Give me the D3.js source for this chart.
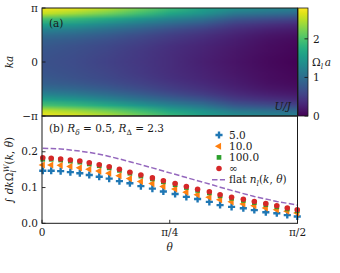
<!DOCTYPE html>
<html>
<head>
<meta charset="utf-8">
<script src="https://cdn.jsdelivr.net/npm/d3@7"></script>
<style>
  body { margin: 0; background: #fff; }
  svg { display: block; }
</style>
</head>
<body>
<svg id="chart" width="340" height="273"></svg>
<script>
// ---- panel (a): heat map, columns go left -> right, rows are |ka|/pi = 0 .. 1
const kAbs = [0, 0.1, 0.2, 0.3, 0.4, 0.5, 0.6, 0.7, 0.8, 0.9, 1.0];
const heatCols = [
  [0.71, 0.72, 0.74, 0.78, 0.85, 1.00, 1.25, 1.60, 2.00, 2.55, 2.75],
  [0.64, 0.65, 0.67, 0.71, 0.78, 0.92, 1.15, 1.48, 1.88, 2.40, 2.70],
  [0.55, 0.56, 0.58, 0.62, 0.68, 0.80, 1.00, 1.30, 1.70, 2.20, 2.50],
  [0.45, 0.46, 0.48, 0.51, 0.56, 0.66, 0.84, 1.10, 1.48, 1.95, 2.20],
  [0.35, 0.36, 0.37, 0.39, 0.44, 0.52, 0.66, 0.90, 1.25, 1.65, 1.90],
  [0.25, 0.26, 0.27, 0.29, 0.33, 0.40, 0.52, 0.74, 1.07, 1.42, 1.60],
  [0.15, 0.16, 0.17, 0.19, 0.22, 0.27, 0.36, 0.50, 0.76, 1.12, 1.40],
  [0.07, 0.08, 0.09, 0.10, 0.13, 0.17, 0.26, 0.40, 0.66, 1.02, 1.30],
  [0.02, 0.03, 0.04, 0.05, 0.07, 0.11, 0.19, 0.32, 0.58, 0.95, 1.25]
];
const colorMax = 2.8;
const colorTicks = [0, 1, 2];
const kTicks = [-1, 0, 1];
const kTickLabels = ['\u2212\u03c0', '0', '\u03c0'];

// ---- panel (b): theta in units of pi/2
const thetaFrac = [0.003, 0.036, 0.073, 0.111, 0.148, 0.185, 0.224, 0.263, 0.303, 0.344,
  0.387, 0.432, 0.475, 0.521, 0.565, 0.609, 0.655, 0.697, 0.742, 0.788,
  0.831, 0.876, 0.919, 0.960, 0.999];
const u5 = [0.147, 0.147, 0.146, 0.143, 0.140, 0.135, 0.130, 0.125, 0.118, 0.112,
  0.104, 0.097, 0.089, 0.082, 0.074, 0.068, 0.060, 0.051, 0.046, 0.042,
  0.037, 0.031, 0.028, 0.023, 0.019];
const u10 = [0.163, 0.163, 0.162, 0.159, 0.155, 0.151, 0.146, 0.140, 0.133, 0.125,
  0.117, 0.111, 0.103, 0.096, 0.087, 0.080, 0.073, 0.066, 0.060, 0.054,
  0.049, 0.043, 0.038, 0.034, 0.029];
const u100 = [0.179, 0.179, 0.177, 0.174, 0.171, 0.166, 0.161, 0.155, 0.148, 0.140,
  0.132, 0.124, 0.116, 0.108, 0.100, 0.092, 0.085, 0.077, 0.070, 0.064,
  0.058, 0.052, 0.046, 0.040, 0.035];
const uInf = [0.183, 0.182, 0.180, 0.177, 0.174, 0.169, 0.164, 0.158, 0.151, 0.143,
  0.135, 0.127, 0.119, 0.111, 0.103, 0.095, 0.088, 0.080, 0.073, 0.067,
  0.061, 0.055, 0.049, 0.043, 0.038];
const flatN = [0.210, 0.209, 0.208, 0.205, 0.202, 0.198, 0.193, 0.187, 0.180, 0.172,
  0.164, 0.155, 0.146, 0.137, 0.128, 0.119, 0.110, 0.101, 0.092, 0.083,
  0.075, 0.068, 0.061, 0.056, 0.051];
const seriesNames = ['5.0', '10.0', '100.0', '\u221e'];
const thetaTicks = [0, 0.5, 1];
const thetaTickLabels = ['0', '\u03c0/4', '\u03c0/2'];
const yTicksB = [0, 0.1, 0.2];

const svg = d3.select('#chart');
const ink = '#1a1a1a';
const fs = 10.5;
const serif = 'DejaVu Serif';

const left = 42, right = 297.5;
const aTop = 8, mid = 116, bBottom = 223.3;

// ---------------- panel (a)
const xA = d3.scaleLinear().domain([0, heatCols.length - 1]).range([left, right]);
const yA = d3.scaleLinear().domain([-1, 1]).range([mid, aTop]);
const cNorm = d3.scaleLinear().domain([0, colorMax]).range([0, 1]).clamp(true);
const color = v => d3.interpolateViridis(cNorm(v));

// rows from k = +pi (top) to k = -pi (bottom), mirrored from |k|
const nRows = kAbs.length * 2 - 1;
const rowIdx = d3.range(nRows).map(j => Math.abs(kAbs.length - 1 - j));
const cvs = document.createElement('canvas');
cvs.width = heatCols.length;
cvs.height = nRows;
const ctx = cvs.getContext('2d');
heatCols.forEach((col, i) => {
  rowIdx.forEach((r, j) => {
    ctx.fillStyle = color(col[r]);
    ctx.fillRect(i, j, 1, 1);
  });
});

const cellW = xA(1) - xA(0);
const cellH = yA(0) - yA(0.1);
svg.append('clipPath').attr('id', 'clipA')
  .append('rect').attr('x', left).attr('y', aTop)
  .attr('width', right - left).attr('height', mid - aTop);

svg.append('image')
  .attr('clip-path', 'url(#clipA)')
  .attr('href', cvs.toDataURL())
  .attr('x', left - cellW / 2).attr('y', aTop - cellH / 2)
  .attr('width', right - left + cellW).attr('height', mid - aTop + cellH)
  .attr('preserveAspectRatio', 'none');

// y axis of (a)
const gA = svg.append('g');
gA.selectAll('.kt').data(kTicks).join('line')
  .attr('x1', left).attr('x2', left + 3.5)
  .attr('y1', d => yA(d)).attr('y2', d => yA(d))
  .attr('stroke', ink).attr('stroke-width', 0.9);
gA.selectAll('.kl').data(kTicks).join('text')
  .attr('x', left - 4).attr('y', d => yA(d)).attr('dy', '0.35em')
  .attr('text-anchor', 'end').attr('font-size', fs).attr('fill', ink)
  .text((d, i) => kTickLabels[i]);

svg.append('text')
  .attr('transform', `translate(13,${yA(0)}) rotate(-90)`)
  .attr('text-anchor', 'middle').attr('font-size', fs).attr('font-style', 'italic')
  .attr('fill', ink).text('ka');

svg.append('text').attr('x', 49).attr('y', 27).attr('font-size', fs).attr('fill', ink)
  .text('(a)');
svg.append('text').attr('x', 291).attr('y', 110).attr('text-anchor', 'end')
  .attr('font-size', fs).attr('font-style', 'italic').attr('fill', ink).text('U/J');

svg.append('rect').attr('x', left).attr('y', aTop)
  .attr('width', right - left).attr('height', mid - aTop)
  .attr('fill', 'none').attr('stroke', ink).attr('stroke-width', 1);

// colorbar
const cbX = 298, cbW = 10;
const cY = d3.scaleLinear().domain([0, colorMax]).range([mid, aTop]);
const grad = svg.append('defs').append('linearGradient').attr('id', 'viridisGrad')
  .attr('x1', 0).attr('y1', 1).attr('x2', 0).attr('y2', 0);
grad.selectAll('stop').data(d3.range(0, 1.0001, 0.05)).join('stop')
  .attr('offset', d => d).attr('stop-color', d => d3.interpolateViridis(d));
svg.append('rect').attr('x', cbX).attr('y', aTop).attr('width', cbW).attr('height', mid - aTop)
  .attr('fill', 'url(#viridisGrad)').attr('stroke', ink).attr('stroke-width', 0.8);
svg.selectAll('.ct').data(colorTicks).join('line')
  .attr('x1', cbX + cbW - 3.5).attr('x2', cbX + cbW)
  .attr('y1', d => cY(d)).attr('y2', d => cY(d))
  .attr('stroke', ink).attr('stroke-width', 0.9);
svg.selectAll('.cl').data(colorTicks).join('text')
  .attr('x', cbX + cbW + 5).attr('y', d => cY(d)).attr('dy', '0.35em')
  .attr('font-size', fs).attr('fill', ink).text(d => d);
const cLab = svg.append('text').attr('x', 312).attr('y', 66).attr('font-size', fs).attr('fill', ink);
cLab.append('tspan').text('\u03a9');
cLab.append('tspan').attr('font-size', 7.5).attr('font-style', 'italic').attr('dy', 2.5).text('l');
cLab.append('tspan').attr('font-style', 'italic').attr('dy', -2.5).attr('dx', 1.5).text('a');

// ---------------- panel (b)
const xB = d3.scaleLinear().domain([0, 1]).range([left, right]);
const yB = d3.scaleLinear().domain([0, 0.3]).range([bBottom, mid]);

const gB = svg.append('g');
gB.selectAll('.yt').data(yTicksB).join('line')
  .attr('x1', left).attr('x2', left + 3.5)
  .attr('y1', d => yB(d)).attr('y2', d => yB(d))
  .attr('stroke', ink).attr('stroke-width', 0.9);
gB.selectAll('.yl').data(yTicksB).join('text')
  .attr('x', left - 4).attr('y', d => yB(d)).attr('dy', '0.35em')
  .attr('text-anchor', 'end').attr('font-size', fs).attr('fill', ink)
  .text(d => d3.format('.1f')(d));
gB.selectAll('.xt').data(thetaTicks).join('line')
  .attr('x1', d => xB(d)).attr('x2', d => xB(d))
  .attr('y1', bBottom).attr('y2', bBottom - 3.5)
  .attr('stroke', ink).attr('stroke-width', 0.9);
gB.selectAll('.xl').data(thetaTicks).join('text')
  .attr('x', d => xB(d)).attr('y', bBottom + 13)
  .attr('text-anchor', 'middle').attr('font-size', fs).attr('fill', ink)
  .text((d, i) => thetaTickLabels[i]);

svg.append('text').attr('x', xB(0.5)).attr('y', 251).attr('text-anchor', 'middle')
  .attr('font-size', fs).attr('font-style', 'italic').attr('fill', ink).text('\u03b8');

const yLab = svg.append('text')
  .attr('transform', `translate(13,170) rotate(-90)`)
  .attr('text-anchor', 'middle').attr('font-size', fs).attr('fill', ink);
yLab.append('tspan').text('\u222b ');
yLab.append('tspan').attr('font-style', 'italic').text('dk');
yLab.append('tspan').text('\u03a9');
yLab.append('tspan').attr('font-style', 'italic').attr('font-size', 7.5).attr('dy', 3).text('l');
yLab.append('tspan').attr('font-style', 'italic').attr('font-size', 7.5).attr('dx', -2).attr('dy', -7).text('W');
yLab.append('tspan').attr('dy', 4).text('(');
yLab.append('tspan').attr('font-style', 'italic').text('k');
yLab.append('tspan').text(', ');
yLab.append('tspan').attr('font-style', 'italic').text('\u03b8');
yLab.append('tspan').text(')');

// dashed flat-band curve
const line = d3.line().x((d, i) => xB(thetaFrac[i])).y(d => yB(d));
svg.append('path').datum(flatN)
  .attr('d', line).attr('fill', 'none')
  .attr('stroke', '#9467bd').attr('stroke-width', 1.5)
  .attr('stroke-dasharray', '5.5 2.4');

// markers
const series = [
  { vals: u5, color: '#1f77b4', sym: d3.symbolCross, size: 28, rot: 0 },
  { vals: u10, color: '#ff7f0e', sym: d3.symbolTriangle, size: 22, rot: -90 },
  { vals: u100, color: '#2ca02c', sym: d3.symbolSquare, size: 22, rot: 0 },
  { vals: uInf, color: '#d62728', sym: d3.symbolCircle, size: 24, rot: 0 }
];
series.forEach(s => {
  svg.append('g').selectAll('path').data(s.vals).join('path')
    .attr('transform', (d, i) => `translate(${xB(thetaFrac[i])},${yB(d)}) rotate(${s.rot})`)
    .attr('d', d3.symbol(s.sym, s.size))
    .attr('fill', s.color);
});

svg.append('rect').attr('x', left).attr('y', mid)
  .attr('width', right - left).attr('height', bBottom - mid)
  .attr('fill', 'none').attr('stroke', ink).attr('stroke-width', 1);

const bTitle = svg.append('text').attr('x', 49).attr('y', 132).attr('font-size', fs).attr('fill', ink);
bTitle.append('tspan').text('(b) ');
bTitle.append('tspan').attr('font-style', 'italic').text('R');
bTitle.append('tspan').attr('font-style', 'italic').attr('font-size', 7.5).attr('dy', 2.5).text('\u03b4');
bTitle.append('tspan').attr('dy', -2.5).text(' = 0.5, ');
bTitle.append('tspan').attr('font-style', 'italic').text('R');
bTitle.append('tspan').attr('font-size', 7.5).attr('dy', 2.5).text('\u0394');
bTitle.append('tspan').attr('dy', -2.5).text(' = 2.3');

// legend
const legX = 219, legY0 = 135, legDy = 11.2;
series.forEach((s, i) => {
  svg.append('path')
    .attr('transform', `translate(${legX},${legY0 + i * legDy}) rotate(${s.rot})`)
    .attr('d', d3.symbol(s.sym, s.size)).attr('fill', s.color);
  svg.append('text').attr('x', 229).attr('y', legY0 + i * legDy).attr('dy', '0.35em')
    .attr('font-size', fs).attr('fill', ink).text(seriesNames[i]);
});
const fy = legY0 + 4 * legDy;
svg.append('line').attr('x1', 212).attr('x2', 225).attr('y1', fy).attr('y2', fy)
  .attr('stroke', '#9467bd').attr('stroke-width', 1.5).attr('stroke-dasharray', '5.5 2.4');
const fl = svg.append('text').attr('x', 229).attr('y', fy).attr('dy', '0.35em')
  .attr('font-size', fs).attr('fill', ink);
fl.append('tspan').text('flat ');
fl.append('tspan').attr('font-style', 'italic').text('n');
fl.append('tspan').attr('font-style', 'italic').attr('font-size', 7.5).attr('dy', 2.5).text('l');
fl.append('tspan').attr('dy', -2.5).text('(');
fl.append('tspan').attr('font-style', 'italic').text('k');
fl.append('tspan').text(', ');
fl.append('tspan').attr('font-style', 'italic').text('\u03b8');
fl.append('tspan').text(')');

svg.selectAll('text').style('font-family', serif);
</script>
</body>
</html>
